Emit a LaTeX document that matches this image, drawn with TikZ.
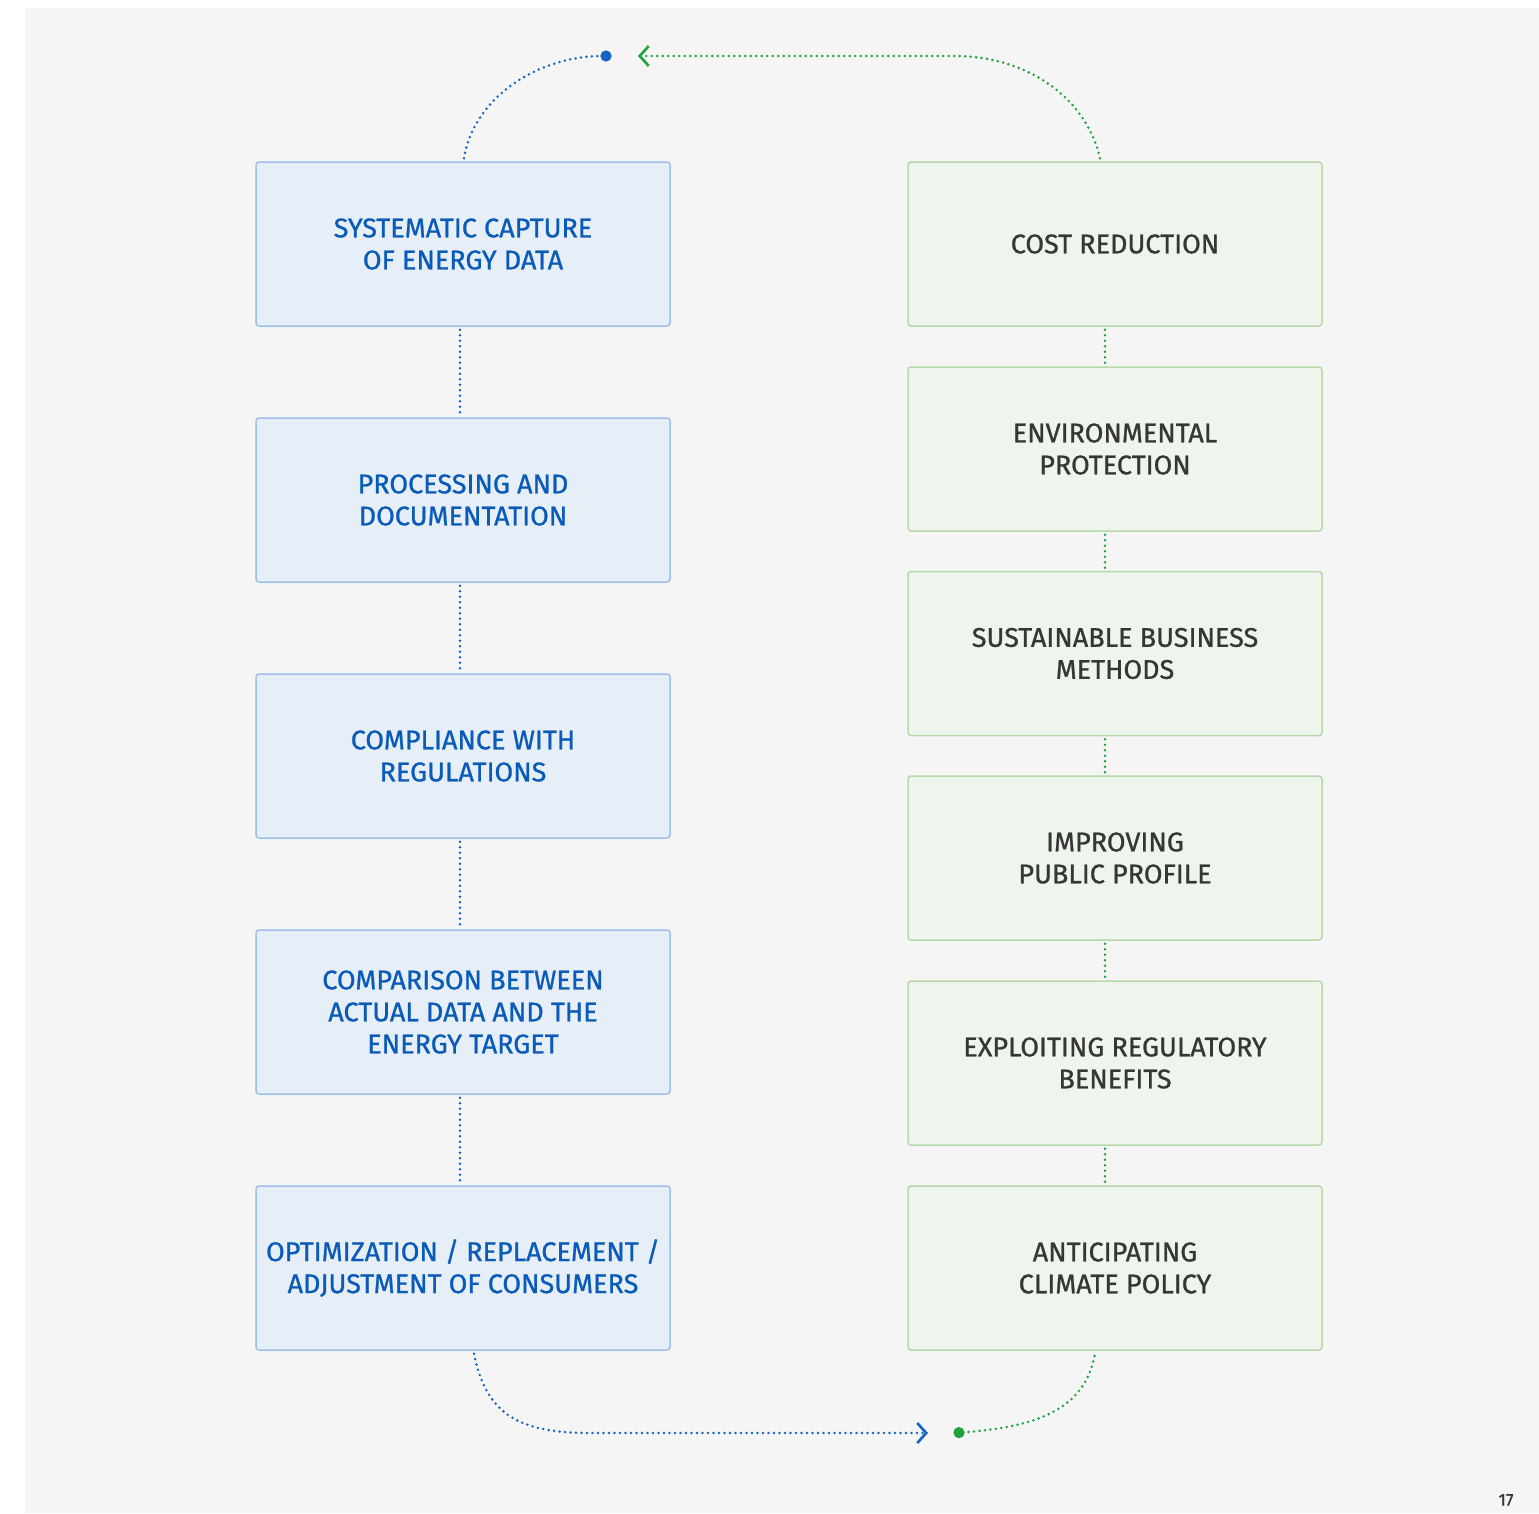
\documentclass[tikz,border=0pt]{standalone}
\usepackage{fontspec}
\setmainfont{Fira Sans}[FakeBold=0.9]
\usetikzlibrary{arrows.meta}
\definecolor{bgray}{HTML}{F5F5F5}
\definecolor{bluefill}{HTML}{E6EEF8}
\definecolor{blueedge}{HTML}{9EC0E8}
\definecolor{bluetext}{HTML}{0A5BB8}
\definecolor{blueline}{HTML}{1464C4}
\definecolor{greenfill}{HTML}{EEF5EC}
\definecolor{greenedge}{HTML}{B6D9AA}
\definecolor{greentext}{HTML}{363636}
\definecolor{greenline}{HTML}{1FA23A}
\tikzset{
  x=1pt, y=-1pt,
  boxbase/.style={rounded corners=3pt, line width=1.5pt, minimum width=414pt, minimum height=164pt, align=center, font=\fontsize{27}{32}\selectfont, inner sep=0pt},
  bluebox/.style={boxbase, draw=blueedge, fill=bluefill, text=bluetext},
  greenbox/.style={boxbase, draw=greenedge, fill=greenfill, text=greentext},
  dots/.style={line width=2.8pt, line cap=round, dash pattern=on 0pt off 5.5pt},
  bluedots/.style={dots, draw=blueline},
  greendots/.style={dots, draw=greenline},
  chevtip/.tip={Straight Barb[length=9pt,width=20pt,line width=2.6pt]},
  dottip/.tip={Circle[length=11pt]}
}
\begin{document}
\begin{tikzpicture}
\useasboundingbox (0,0) rectangle (1539,1513);
\fill[white] (0,0) rectangle (1539,1513);
\fill[bgray] (25,8) rectangle (1539,1513);

\node[bluebox] (b1) at (463,244) {SYSTEMATIC CAPTURE\\OF ENERGY DATA};
\node[bluebox] (b2) at (463,500) {PROCESSING AND\\DOCUMENTATION};
\node[bluebox] (b3) at (463,756) {COMPLIANCE WITH\\REGULATIONS};
\node[bluebox] (b4) at (463,1012) {COMPARISON BETWEEN\\ACTUAL DATA AND THE\\ENERGY TARGET};
\node[bluebox] (b5) at (463,1268) {OPTIMIZATION / REPLACEMENT /\\ADJUSTMENT OF CONSUMERS};

\node[greenbox] (r1) at (1115,244) {COST REDUCTION};
\node[greenbox] (r2) at (1115,449) {ENVIRONMENTAL\\PROTECTION};
\node[greenbox] (r3) at (1115,653.5) {SUSTAINABLE BUSINESS\\METHODS};
\node[greenbox] (r4) at (1115,858) {IMPROVING\\PUBLIC PROFILE};
\node[greenbox] (r5) at (1115,1063) {EXPLOITING REGULATORY\\BENEFITS};
\node[greenbox] (r6) at (1115,1268) {ANTICIPATING\\CLIMATE POLICY};

\foreach \a/\b in {b1/b2,b2/b3,b3/b4,b4/b5}
  \draw[bluedots] ([xshift=-3pt,yshift=-3pt]\a.south) -- ([xshift=-3pt,yshift=3pt]\b.north);
\foreach \a/\b in {r1/r2,r2/r3,r3/r4,r4/r5,r5/r6}
  \draw[greendots] ([xshift=-10pt,yshift=-3pt]\a.south) -- ([xshift=-10pt,yshift=3pt]\b.north);

\coordinate (topdot) at (611.5,56);
\coordinate (toparrow) at (638,56);
\coordinate (botarrow) at (928,1433);
\coordinate (botdot) at (953.5,1433);

\draw[bluedots, -{dottip[fill=blueline]}] ([xshift=1pt,yshift=3pt]b1.north) .. controls +(10,-62) and +(-72,0) .. (topdot);
\draw[greendots, -{chevtip[greenline]}] ([xshift=-15pt,yshift=3pt]r1.north) .. controls +(-14,-62) and +(70,0) .. (955,56) -- (toparrow);
\draw[bluedots, -{chevtip[blueline]}] ([xshift=11pt,yshift=-3pt]b5.south) .. controls +(12,58) and +(-75,0) .. (590,1433) -- (botarrow);
\draw[greendots, {dottip[fill=greenline]}-] (botdot) .. controls +(85,-6) and +(-10,55) .. ([xshift=-20pt,yshift=-3pt]r6.south);

\node[text=greentext, font=\fontsize{17}{20}\selectfont, inner sep=0pt] (pg) at (1506,1500) {17};
\end{tikzpicture}
\end{document}
